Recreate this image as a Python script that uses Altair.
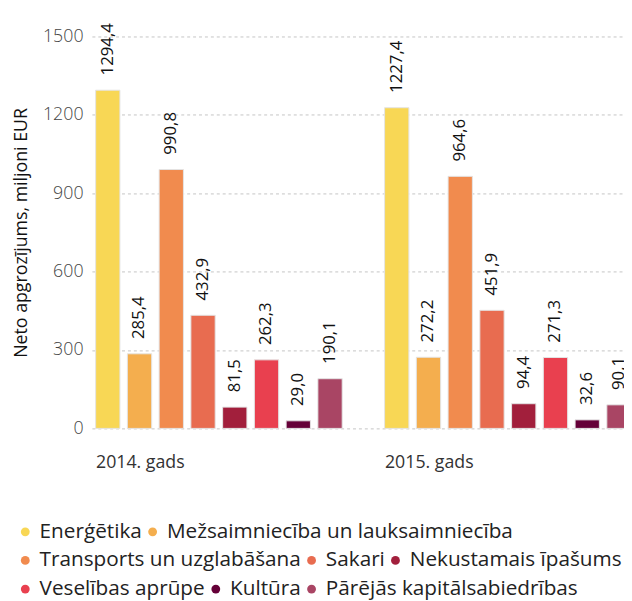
import altair as alt
import pandas as pd

years = ["2014. gads", "2015. gads"]
categories = [
    "Enerģētika",
    "Mežsaimniecība un lauksaimniecība",
    "Transports un uzglabāšana",
    "Sakari",
    "Nekustamais īpašums",
    "Veselības aprūpe",
    "Kultūra",
    "Pārējās kapitālsabiedrības",
]
values_2014 = [1294.4, 285.4, 990.8, 432.9, 81.5, 262.3, 29.0, 190.1]
values_2015 = [1227.4, 272.2, 964.6, 451.9, 94.4, 271.3, 32.6, 90.1]
colors = ["#F8D755", "#F4AE4E", "#F18B4E", "#E86C50", "#A21F3C", "#E9404F", "#650038", "#A94564"]
y_ticks = [0, 300, 600, 900, 1200, 1500]
legend_rows = [(0, 2), (2, 5), (5, 8)]

rows = []
for yr, vals in zip(years, [values_2014, values_2015]):
    for c, v in zip(categories, vals):
        rows.append({"year": yr, "category": c, "value": v,
                     "label": f"{v:.1f}".replace(".", ",")})
df = pd.DataFrame(rows)

FONT = "Open Sans"

x_enc = alt.X(
    "year:N",
    sort=years,
    scale=alt.Scale(range=[0, 550], paddingInner=0.121, paddingOuter=0),
    axis=alt.Axis(title=None, labelAlign="left", labelOffset=-124.5,
                  labelAngle=0, ticks=False, domain=False, labelPadding=26,
                  labelFontSize=18, labelColor="#333", labelFont=FONT,
                  labelBaseline="top"),
)
xoff_enc = alt.XOffset(
    "category:N",
    sort=categories,
    scale=alt.Scale(domain=categories, paddingInner=0.235, paddingOuter=0.1175),
)
y_enc = alt.Y(
    "value:Q",
    scale=alt.Scale(domain=[0, 1500], nice=False),
    axis=alt.Axis(title="Neto apgrozījums, miljoni EUR", values=y_ticks,
                  format="d",
                  ticks=False, domain=False, grid=True, gridDash=[3, 3],
                  gridColor="#c4c4c4", labelFontSize=18, labelColor="#444",
                  labelFont=FONT, labelFontWeight=300, labelPadding=9,
                  titleFont=FONT, titleFontSize=18, titleFontWeight="normal",
                  titleColor="#111", titlePadding=12),
)

bars = alt.Chart(df).mark_bar(stroke="#e4e4e4", strokeWidth=1).encode(
    x=x_enc,
    xOffset=xoff_enc,
    y=y_enc,
    color=alt.Color("category:N",
                    scale=alt.Scale(domain=categories, range=colors),
                    legend=None),
)

text = alt.Chart(df).mark_text(
    angle=270, align="left", baseline="middle", dx=15,
    font=FONT, fontSize=17, color="#111",
).encode(
    x=x_enc,
    xOffset=xoff_enc,
    y=y_enc,
    text="label:N",
)


def legend_layer(i, start, end):
    return alt.Chart(df).transform_filter("datum.value < 0").mark_point(
        filled=True, opacity=1
    ).encode(
        color=alt.Color(
            "category:N",
            scale=alt.Scale(domain=categories[start:end], range=colors[start:end]),
            legend=alt.Legend(
                title=None, orient="none", legendX=-78, legendY=491 + 29 * i,
                direction="horizontal",
                symbolType="circle", symbolSize=80, symbolStrokeWidth=0,
                symbolOpacity=1,
                labelFont=FONT, labelFontSize=21, labelColor="#222",
                labelOffset=4, columnPadding=0, padding=0, labelLimit=500,
            ),
        )
    )


legends = [legend_layer(i, s, e) for i, (s, e) in enumerate(legend_rows)]

chart = alt.layer(bars, text, *legends).resolve_scale(color="independent").properties(
    width=539,
    height=397,
    padding={"left": 85, "top": 25, "right": 0, "bottom": 171},
    autosize=alt.AutoSizeParams(type="none"),
).configure_view(strokeWidth=0)

chart.save("out.html", embed_options={"renderer": "svg", "actions": False})
